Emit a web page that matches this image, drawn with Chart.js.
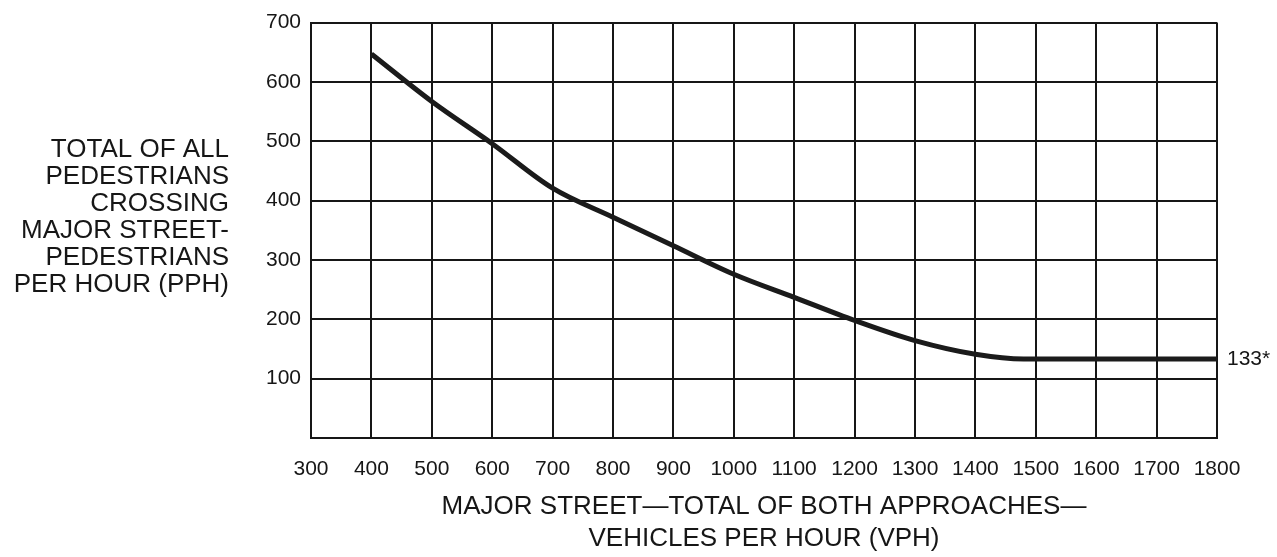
<!DOCTYPE html>
<html>
<head>
<meta charset="utf-8">
<script src="https://cdn.jsdelivr.net/npm/chart.js@4.4.1/dist/chart.umd.min.js"></script>
<style>
  html, body { margin: 0; padding: 0; background: #fff; }
  #wrap { position: relative; width: 1277px; height: 557px; }
</style>
</head>
<body>
<div id="wrap"><canvas id="chart"></canvas></div>
<script>
// --- data ---
const vehiclesPerHour = [400, 500, 600, 700, 800, 900, 1000, 1100, 1200, 1300, 1400, 1480, 1800];
const pedestriansPerHour = [647, 567, 496, 421, 372, 324, 276, 237, 198, 164, 141, 133, 133];
const xTickValues = [300, 400, 500, 600, 700, 800, 900, 1000, 1100, 1200, 1300, 1400, 1500, 1600, 1700, 1800];
const yTickValues = [0, 100, 200, 300, 400, 500, 600, 700];
const yTitleLines = ['TOTAL OF ALL', 'PEDESTRIANS', 'CROSSING', 'MAJOR STREET-', 'PEDESTRIANS', 'PER HOUR (PPH)'];
const xTitleLines = ['MAJOR STREET\u2014TOTAL OF BOTH APPROACHES\u2014', 'VEHICLES PER HOUR (VPH)'];
const endLabel = '133*';

const INK = '#161616';
const FONT = '"Liberation Sans", Arial, Helvetica, sans-serif';

// horizontal y title on the left + the "133*" note at the end of the line
const sideText = {
  id: 'sideText',
  afterDraw(chart) {
    const { ctx, chartArea, scales } = chart;
    ctx.save();
    ctx.fillStyle = INK;
    ctx.textBaseline = 'middle';

    ctx.font = '26px ' + FONT;
    ctx.textAlign = 'right';
    const lh = 27;
    const mid = (chartArea.top + chartArea.bottom) / 2 - 13;
    yTitleLines.forEach((t, i) => {
      ctx.fillText(t, 229, mid + (i - (yTitleLines.length - 1) / 2) * lh);
    });

    ctx.font = '21px ' + FONT;
    ctx.textAlign = 'left';
    const last = pedestriansPerHour[pedestriansPerHour.length - 1];
    ctx.fillText(endLabel, chartArea.right + 10, scales.y.getPixelForValue(last));
    ctx.restore();
  }
};

const points = vehiclesPerHour.map((v, i) => ({ x: v, y: pedestriansPerHour[i] }));

new Chart(document.getElementById('chart'), {
  type: 'line',
  data: {
    datasets: [{
      data: points,
      borderColor: '#1b1b1b',
      borderWidth: 5,
      pointRadius: 0,
      cubicInterpolationMode: 'monotone',
      fill: false
    }]
  },
  options: {
    responsive: true,
    maintainAspectRatio: false,
    animation: false,
    layout: { padding: { top: 20, right: 60, bottom: 0, left: 0 } },
    plugins: { legend: { display: false }, tooltip: { enabled: false } },
    scales: {
      x: {
        type: 'linear',
        min: 300,
        max: 1800,
        afterBuildTicks: s => { s.ticks = xTickValues.map(v => ({ value: v })); },
        afterFit: s => { s.height = 119; },
        grid: { color: INK, lineWidth: 2, drawTicks: false },
        border: { color: INK, width: 2 },
        ticks: {
          color: INK,
          font: { family: FONT, size: 21 },
          padding: 19,
          maxRotation: 0,
          autoSkip: false,
          callback: v => String(v)
        },
        title: {
          display: true,
          text: xTitleLines,
          color: INK,
          font: { family: FONT, size: 26, lineHeight: 1.2 },
          padding: { top: 0, bottom: 3 }
        }
      },
      y: {
        type: 'linear',
        min: 0,
        max: 700,
        afterBuildTicks: s => { s.ticks = yTickValues.map(v => ({ value: v })); },
        afterFit: s => { s.width = 311; },
        grid: { color: INK, lineWidth: 2, drawTicks: false },
        border: { color: INK, width: 2 },
        ticks: {
          color: INK,
          font: { family: FONT, size: 21 },
          padding: 10,
          callback: v => (v === 0 ? '' : String(v))
        }
      }
    }
  },
  plugins: [sideText]
});
</script>
</body>
</html>
